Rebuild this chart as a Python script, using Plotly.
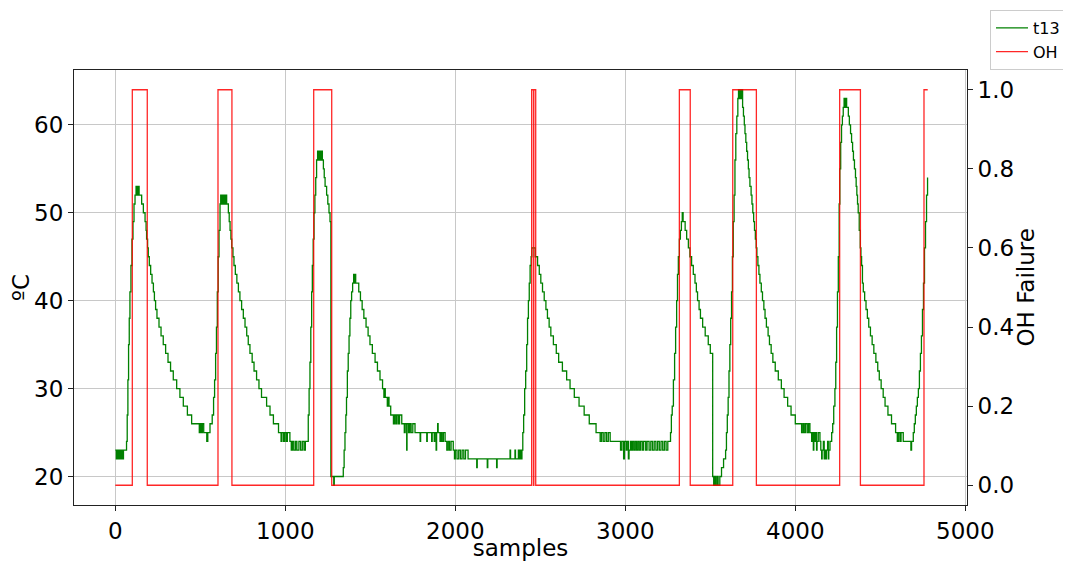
import plotly.graph_objects as go

# ---- OH failure flag (step changes) ----
oh_samples = [0, 100, 188, 604, 686, 1167, 1273, 2449, 2460, 2462, 2473,
              3318, 3382, 3632, 3771, 4261, 4383, 4757, 4779]
oh_values = [0, 1, 0, 1, 0, 1, 0, 1, 0, 1, 0,
             1, 0, 1, 0, 1, 0, 1, 1]

# ---- t13 temperature (breakpoints, value held until next sample) ----
t13_samples = [
    0, 6, 12, 18, 24, 30, 36, 42, 48,
    66, 70, 74, 78, 82, 86, 92, 98, 104, 110, 116, 122, 126, 129, 132, 135, 140,
    155, 165, 175, 181, 184, 190, 194, 200, 208, 216, 224, 230, 237, 245, 257, 269,
    282, 296, 310, 325, 341, 361, 380, 400, 424, 449, 494, 500, 506, 512, 520, 538,
    544, 557,
    560, 570, 578, 584, 590, 595, 600, 605, 610, 616, 620, 624, 628, 634, 640, 646, 651,
    655, 665, 670, 675, 680, 685, 692, 698, 706, 715, 724, 733, 743, 753, 763, 773,
    782, 792, 805, 816, 831, 845, 860, 890, 910, 930, 960, 975, 980, 990, 996, 1005,
    1012, 1027, 1035, 1042, 1050, 1060, 1068, 1080, 1090, 1100, 1110, 1118, 1126,
    1130, 1135, 1140, 1145, 1150, 1155, 1159, 1164, 1169, 1174, 1179, 1184, 1190,
    1196, 1200, 1206, 1212,
    1218, 1224, 1229, 1234, 1243, 1250, 1257, 1263,
    1268, 1285, 1288,
    1341, 1346, 1351, 1356, 1360, 1365, 1370, 1375, 1380, 1385, 1390, 1396, 1402,
    1406, 1410, 1414,
    1422, 1432, 1442, 1452, 1462, 1475, 1487, 1498, 1512, 1528, 1542, 1557, 1572,
    1580, 1585, 1588, 1600, 1606, 1610, 1620, 1636, 1642, 1650, 1656, 1665, 1672,
    1685, 1700, 1705, 1714, 1716, 1725, 1732, 1740, 1750, 1763, 1793, 1796, 1832,
    1835, 1861, 1864, 1876, 1879, 1887, 1890, 1896, 1899, 1910, 1915, 1922, 1930,
    1940, 1950, 1958, 1966, 1975, 1988, 1995, 2000, 2010, 2020, 2030, 2040, 2050,
    2060, 2075, 2126, 2129, 2188, 2191, 2243, 2246, 2322, 2325, 2351, 2354, 2371,
    2376, 2382, 2386,
    2392, 2397, 2402, 2408, 2414, 2420, 2425, 2430, 2435, 2440, 2446, 2450,
    2470, 2484, 2494, 2503, 2513, 2523, 2533, 2542, 2552, 2562, 2577, 2594, 2608,
    2630, 2655, 2675, 2700, 2728, 2758, 2788, 2828, 2852, 2860, 2870, 2880, 2890,
    2900, 2911, 2972, 2980, 2990, 2995, 3005, 3010, 3018, 3022, 3030, 3036, 3042,
    3050, 3058, 3066, 3074, 3082, 3090, 3100, 3108, 3120, 3128, 3140, 3150, 3160,
    3170, 3180, 3190, 3200, 3210, 3220, 3230, 3240, 3250, 3263,
    3266, 3271, 3276, 3283, 3290, 3296, 3302, 3307, 3312, 3318, 3324, 3330, 3335,
    3340, 3345, 3352, 3361, 3371, 3380, 3390, 3400, 3410, 3418, 3425, 3434, 3442,
    3455, 3470, 3488, 3500,
    3514, 3520, 3526, 3532, 3540, 3546, 3556, 3566, 3578,
    3590, 3595, 3600, 3605, 3610, 3615, 3620, 3625, 3630, 3635, 3640, 3645, 3650,
    3656, 3662, 3666, 3672, 3676, 3680, 3685,
    3690, 3695, 3700, 3704, 3709, 3714, 3719, 3724, 3728, 3733, 3740, 3745, 3750,
    3755, 3760, 3765, 3770, 3774, 3780, 3786, 3792, 3800, 3807, 3815, 3822, 3830,
    3840, 3848, 3858, 3868, 3882, 3900, 3918, 3934, 3955, 3975, 4000, 4037, 4045,
    4052, 4060, 4070, 4078, 4086, 4096, 4101, 4106, 4109, 4115, 4120, 4125, 4128,
    4135, 4145, 4150, 4155, 4158, 4165, 4170, 4173, 4180, 4183, 4190, 4194, 4197, 4204,
    4214, 4220, 4226, 4233, 4238, 4243, 4248, 4253, 4258, 4262, 4267, 4272, 4277,
    4282, 4287, 4292, 4296, 4302,
    4312, 4318, 4325, 4331, 4337, 4342, 4348, 4354, 4358, 4362, 4366, 4370, 4376,
    4382, 4386, 4390, 4395, 4400, 4408, 4416, 4424, 4432, 4442, 4452, 4462, 4474,
    4485, 4494, 4505, 4517, 4528, 4545, 4566, 4590, 4600, 4606, 4615, 4622, 4635,
    4680, 4684, 4694, 4700, 4706, 4712, 4718, 4724, 4730, 4736, 4742, 4748, 4754,
    4760, 4766, 4772, 4778,
]
t13_values = [
    23, 22, 23, 22, 23, 22, 23, 22, 23,
    24, 27, 31, 35, 38, 41, 44, 47, 49, 51, 52, 53, 52, 53, 52, 53, 52,
    51, 50, 49, 48, 47, 46, 45, 44, 43, 42, 41, 40, 39, 38, 37, 36,
    35, 34, 33, 32, 31, 30, 29, 28, 27, 26, 25, 26, 25, 26, 25, 24,
    25, 26,
    26, 27, 29, 31, 34, 37, 41, 45, 48, 51, 52, 51, 52, 51, 52, 51, 52,
    51, 50, 49, 48, 47, 46, 45, 44, 43, 42, 41, 40, 39, 38, 37, 36,
    35, 34, 33, 32, 31, 30, 29, 28, 27, 26, 25, 24, 25, 24, 25, 24,
    25, 24, 23, 24, 23, 24, 23, 24, 23, 24, 23, 24, 24,
    24, 27, 30, 33, 37, 41, 44, 47, 50, 52, 54, 56, 57,
    56, 57, 56, 57,
    56, 55, 54, 53, 52, 51, 50, 49,
    20, 19, 20,
    21, 23, 25, 27, 29, 32, 34, 36, 38, 40, 41, 42, 43,
    42, 43, 42,
    42, 41, 40, 39, 38, 37, 36, 35, 34, 33, 32, 31, 30,
    29, 30, 29, 28, 29, 28, 27, 26, 27, 26, 27, 26, 27,
    26, 25, 26, 23, 26, 25, 26, 25, 26, 25, 24, 25, 24,
    25, 24, 25, 24, 25, 23, 25, 26, 25, 24, 25, 24, 25,
    24, 23, 24, 23, 24, 23, 22, 23, 22, 23, 22, 23, 22,
    23, 22, 21, 22, 21, 22, 21, 22, 23, 22, 23, 22, 23,
    22, 23, 22,
    23, 25, 27, 30, 32, 35, 38, 40, 42, 44, 45, 46,
    45, 44, 43, 42, 41, 40, 39, 38, 37, 36, 35, 34, 33,
    32, 31, 30, 29, 28, 27, 26, 25, 24, 25, 24, 25, 24,
    25, 24, 23, 24, 22, 24, 23, 24, 22, 23, 24, 23, 24,
    23, 24, 23, 24, 23, 24, 23, 24, 23, 24, 23, 24, 23,
    24, 23, 24, 23, 24, 23, 24, 23, 24, 24,
    25, 27, 28, 31, 34, 37, 40, 43, 45, 47, 48, 49, 50,
    49, 49, 48, 47, 46, 45, 44, 43, 42, 41, 40, 39, 38,
    37, 36, 35, 34,
    20, 19, 20, 19, 20, 19, 20, 21, 22,
    23, 25, 27, 29, 32, 35, 38, 41, 45, 49, 52, 56, 59,
    61, 63, 64, 63, 64, 63, 64,
    62, 61, 60, 59, 58, 57, 56, 55, 54, 53, 52, 51, 50,
    49, 48, 47, 46, 45, 44, 43, 42, 41, 40, 39, 38, 37,
    36, 35, 34, 33, 32, 31, 30, 29, 28, 27, 26, 25, 26,
    25, 26, 25, 26, 25, 24, 25, 23, 25, 24, 25, 23, 24,
    25, 24, 23, 22, 23, 24, 22, 23, 22, 23, 24, 22, 23, 24,
    25, 26, 28, 30, 33, 37, 41, 45, 51, 55, 58, 60, 61,
    62, 63, 62, 63, 62,
    61, 60, 59, 58, 57, 56, 55, 54, 53, 52, 51, 50, 48,
    46, 45, 44, 42, 41, 40, 39, 38, 37, 36, 35, 34, 33,
    32, 31, 30, 29, 28, 27, 26, 25, 24, 25, 24, 25, 24,
    23, 24, 25, 26, 27, 28, 29, 30, 32, 34, 36, 39, 42,
    46, 49, 52, 54,
]

x_ticks = [0, 1000, 2000, 3000, 4000, 5000]
y_ticks = [20, 30, 40, 50, 60]
y2_ticks = [0.0, 0.2, 0.4, 0.6, 0.8, 1.0]

FONT = "DejaVu Sans"

fig = go.Figure()
fig.add_trace(go.Scatter(
    x=t13_samples, y=t13_values, name="t13", mode="lines",
    line=dict(color="green", width=1.3, shape="hv"), yaxis="y"))
fig.add_trace(go.Scatter(
    x=oh_samples, y=oh_values, name="OH", mode="lines",
    line=dict(color="rgba(255,0,0,0.85)", width=1.3, shape="hv"), yaxis="y2"))

axis_common = dict(
    showline=True, linecolor="#222", linewidth=1, ticks="outside", ticklen=5,
    tickwidth=1, tickcolor="#222", tickfont=dict(family=FONT, size=23, color="black"),
    zeroline=False, automargin=False,
)

# the page body adds an 8px offset, so the figure is 8px smaller and shifted
fig.update_layout(
    width=1063, height=553,
    margin=dict(l=66, r=104, t=62, b=56),
    paper_bgcolor="white", plot_bgcolor="white",
    font=dict(family=FONT, color="black"),
    xaxis=dict(
        **axis_common, range=[-243, 5010], tickvals=x_ticks, mirror=True,
        showgrid=True, gridcolor="#c8c8c8", gridwidth=1,
        title=dict(text="samples", font=dict(family=FONT, size=23), standoff=2),
    ),
    yaxis=dict(
        **axis_common, range=[16.76, 66.24], tickvals=y_ticks,
        showgrid=True, gridcolor="#c8c8c8", gridwidth=1,
        title=dict(text="ºC", font=dict(family=FONT, size=23), standoff=8),
    ),
    yaxis2=dict(
        **axis_common, range=[-0.05, 1.05], tickvals=y2_ticks, tickformat=".1f",
        overlaying="y", side="right", showgrid=False,
    ),
    legend=dict(
        x=0.9238, y=0.9964, xanchor="left", yanchor="top",
        xref="container", yref="container",
        bgcolor="white", bordercolor="#cccccc", borderwidth=1,
        font=dict(family=FONT, size=16, color="black"),
        tracegroupgap=0, itemwidth=32,
    ),
    showlegend=True,
    annotations=[dict(
        text="OH Failure", xref="paper", yref="paper", x=1.065, y=0.5,
        xanchor="center", yanchor="middle", textangle=-90, showarrow=False,
        font=dict(family=FONT, size=23, color="black"),
    )],
)

fig.write_html("out.html")
